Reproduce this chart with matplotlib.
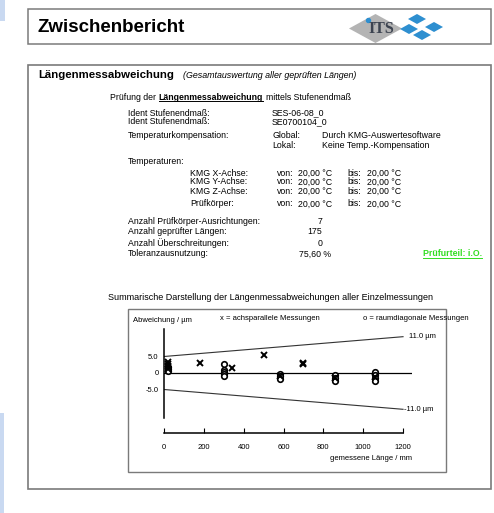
import matplotlib
matplotlib.use("Agg")
import matplotlib.pyplot as plt
from matplotlib.patches import Rectangle, Polygon, Circle

plt.rcParams['font.family'] = ['Liberation Sans', 'DejaVu Sans']

len_parallel = [20, 20, 20, 20, 180, 340, 500, 700, 700, 580, 860, 1060]
dev_parallel = [3.4, 2.8, 2.0, 1.2, 2.9, 1.4, 5.5, 2.6, 3.1, -1.0, -1.5, -1.2]
len_diag = [20, 20, 20, 300, 300, 300, 300, 300, 580, 580, 580,
            860, 860, 860, 1060, 1060, 1060, 1060]
dev_diag = [1.8, 1.2, 0.6, 2.6, 1.0, 0.4, -0.2, -0.8, -0.3, -1.0, -1.8,
            -0.7, -1.6, -2.5, 0.3, -0.6, -1.6, -2.5]

# Grenzwerte (MPE)
limit_len = [0, 1200]
limit_upper = [5.0, 11.0]
limit_lower = [-5.0, -11.0]

x_ticks = [0, 200, 400, 600, 800, 1000, 1200]
y_ticks = [5.0, 0, -5.0]
y_labels = ['5.0', '0', '-5.0']

W, H = 494, 513
fig = plt.figure(figsize=(W / 100, H / 100), dpi=100)
renderer = fig.canvas.get_renderer()

# Hintergrund-Achse in Pixelkoordinaten
bg = fig.add_axes([0, 0, 1, 1])
bg.set_xlim(0, W)
bg.set_ylim(H, 0)
bg.axis('off')

# blaue Randstreifen
bg.add_patch(Rectangle((0, 0), 5, 21, color='#c9d9f1', lw=0))
bg.add_patch(Rectangle((0, 413), 4, 100, color='#c9d9f1', lw=0))

# Rahmen
bg.add_patch(Rectangle((28, 9), 463, 35, fill=False, ec='#7a7a7a', lw=1.1))
bg.add_patch(Rectangle((28, 65), 463, 424, fill=False, ec='#7a7a7a', lw=1.2))
bg.add_patch(Rectangle((128, 309), 318, 163, fill=False, ec='#7a7a7a', lw=1.0))

# Logo
bg.add_patch(Polygon([(349, 28.5), (375.5, 14), (402, 28.5), (375.5, 43)],
                     closed=True, color='#b4b4b4', lw=0))
bg.text(381, 29, 'ITS', fontsize=11.5, family='Liberation Serif', fontweight='bold',
        color='#3c4350', ha='center', va='center')
bg.add_patch(Circle((368.5, 20.5), 2.0, color='#2e8fd0'))
for cx, cy in [(417, 19), (434, 27), (409, 29), (422, 35)]:
    bg.add_patch(Polygon([(cx - 9, cy), (cx, cy - 5), (cx + 9, cy), (cx, cy + 5)],
                         closed=True, color='#2e8fd0', lw=0))

bg.text(37, 27, 'Zwischenbericht', fontsize=13.5, fontweight='bold', va='center')


def txt(x, y, s, **kw):
    kw.setdefault('fontsize', 6.3)
    return bg.text(x, y, s, va='center', ha=kw.pop('ha', 'left'), **kw)


def underline(t, col):
    bb = t.get_window_extent(renderer)
    inv = bg.transData.inverted()
    (xa, ya), (xb, yb) = inv.transform([(bb.x0, bb.y0), (bb.x1, bb.y0)])
    bg.plot([xa, xb], [ya - 0.8, yb - 0.8], color=col, lw=0.7)


txt(38, 75, 'Längenmessabweichung', fontsize=8.2, fontweight='bold')
txt(183, 75, '(Gesamtauswertung aller geprüften Längen)', fontsize=6.4, style='italic')

# Zeile mit fettem, unterstrichenem Wort
xpos = 110
for s, kw in [('Prüfung der', {}), ('Längenmessabweichung', {'fontweight': 'bold'}),
              ('mittels Stufenendmaß', {})]:
    t = txt(xpos, 97, s, **kw)
    if kw:
        underline(t, 'black')
    xpos += t.get_window_extent(renderer).width + 2.6

txt(128, 113, 'Ident Stufenendmaß:')
txt(272, 113, 'SES-06-08_0')
txt(128, 122, 'Ident Stufenendmaß:')
txt(272, 122, 'SE0700104_0')
txt(128, 136, 'Temperaturkompensation:')
txt(272, 136, 'Global:')
txt(322, 136, 'Durch KMG-Auswertesoftware')
txt(272, 146, 'Lokal:')
txt(322, 146, 'Keine Temp.-Kompensation')
txt(128, 161, 'Temperaturen:')

temp_rows = ['KMG X-Achse:', 'KMG Y-Achse:', 'KMG Z-Achse:', 'Prüfkörper:']
temp_y = [173, 182, 191, 204]
for name, yy in zip(temp_rows, temp_y):
    txt(190, yy, name)
    txt(277, yy, 'von:')
    txt(298, yy, '20,00 °C')
    txt(347, yy, 'bis:')
    txt(367, yy, '20,00 °C')

count_rows = ['Anzahl Prüfkörper-Ausrichtungen:', 'Anzahl geprüfter Längen:',
              'Anzahl Überschreitungen:']
count_vals = ['7', '175', '0']
for name, val, yy in zip(count_rows, count_vals, [222, 232, 243]):
    txt(128, yy, name)
    txt(322, yy, val, ha='right')
txt(128, 254, 'Toleranzausnutzung:')
txt(299, 254, '75,60 %')
t_green = txt(482, 254, 'Prüfurteil: i.O.', ha='right', fontweight='bold', color='#33dd22')
underline(t_green, '#33dd22')

txt(108, 298, 'Summarische Darstellung der Längenmessabweichungen aller Einzelmessungen',
    fontsize=6.5)

txt(133, 320, 'Abweichung / µm', fontsize=5.5)
txt(220, 318, 'x = achsparallele Messungen', fontsize=5.5)
txt(363, 318, 'o = raumdiagonale Messungen', fontsize=5.5)
txt(412, 459, 'gemessene Länge / mm', fontsize=5.5, ha='right')

# Diagramm
x0, x1 = 164, 412
ytop, ybot = 329, 433
ax = fig.add_axes([x0 / W, 1 - ybot / H, (x1 - x0) / W, (ybot - ytop) / H])
ax.set_xlim(0, 1245)
ax.set_ylim(-18.18, 13.33)
ax.patch.set_alpha(0)
for s in ['top', 'right']:
    ax.spines[s].set_visible(False)
ax.spines['left'].set_bounds(-13.6, 13.33)
ax.spines['bottom'].set_bounds(0, 1200)
for s in ['left', 'bottom']:
    ax.spines[s].set_linewidth(1.1)

ax.axhline(0, color='black', lw=0.9)
ax.plot(limit_len, limit_upper, color='#333333', lw=0.8)
ax.plot(limit_len, limit_lower, color='#333333', lw=0.8)
ax.annotate('11.0 µm', (limit_len[-1], limit_upper[-1]), xytext=(4, 0),
            textcoords='offset points', fontsize=5.5, va='center')
ax.annotate('-11.0 µm', (limit_len[-1], limit_lower[-1]), xytext=(1, 0),
            textcoords='offset points', fontsize=5.5, va='center')

ax.plot(len_diag, dev_diag, 'o', ms=4.0, mfc='white', mec='black', mew=1.2, clip_on=False)
ax.plot(len_parallel, dev_parallel, 'x', ms=3.8, color='black', mew=1.4, clip_on=False)

ax.set_xticks(x_ticks)
ax.set_xticklabels([str(v) for v in x_ticks])
ax.set_yticks(y_ticks)
ax.set_yticklabels(y_labels)
ax.tick_params(axis='x', direction='in', length=3.5, width=0.8, pad=8, labelsize=5.5)
ax.tick_params(axis='y', length=0, pad=4, labelsize=5.5)

fig.savefig('out.png', dpi=100)
